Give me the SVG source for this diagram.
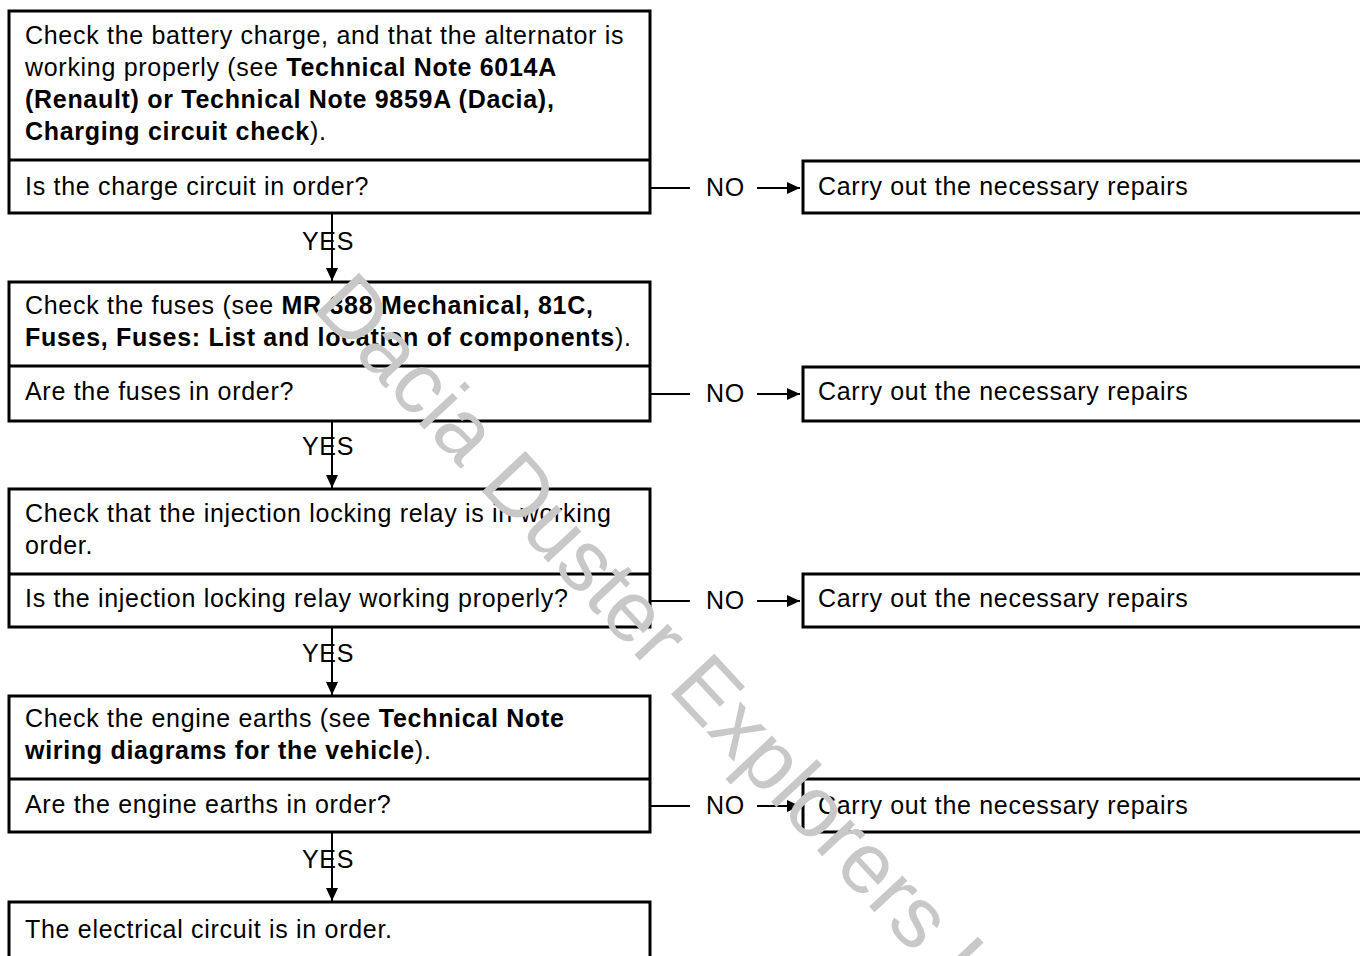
<svg xmlns="http://www.w3.org/2000/svg" width="1360" height="956" viewBox="0 0 1360 956">
<defs>
<style>
.box{fill:#fff;stroke:#000;stroke-width:3}
.div{stroke:#000;stroke-width:3}
.t{font-family:"Liberation Sans",Arial,sans-serif;font-size:25px;letter-spacing:0.7px;fill:#000}
.b{font-weight:bold}
.ln{stroke:#000;stroke-width:2;fill:none}
.wm{font-family:"Liberation Sans",Arial,sans-serif;font-size:86px;fill:#c8c8c8}
</style>
<marker id="ah" markerUnits="userSpaceOnUse" markerWidth="14" markerHeight="14" viewBox="0 0 14 14" refX="13" refY="7" orient="auto">
<path d="M0,1 L13,7 L0,13 Z" fill="#000"/>
</marker>
</defs>
<rect width="1360" height="956" fill="#fff"/>

<g id="connectors">
<line class="ln" x1="332" y1="213" x2="332" y2="281" marker-end="url(#ah)"/>
<line class="ln" x1="332" y1="421" x2="332" y2="488" marker-end="url(#ah)"/>
<line class="ln" x1="332" y1="627" x2="332" y2="695" marker-end="url(#ah)"/>
<line class="ln" x1="332" y1="832" x2="332" y2="901" marker-end="url(#ah)"/>
<text class="t" x="328" y="250" text-anchor="middle">YES</text>
<text class="t" x="328" y="455" text-anchor="middle">YES</text>
<text class="t" x="328" y="662" text-anchor="middle">YES</text>
<text class="t" x="328" y="868" text-anchor="middle">YES</text>
<line class="ln" x1="650" y1="188" x2="690" y2="188"/>
<line class="ln" x1="757" y1="188" x2="800" y2="188" marker-end="url(#ah)"/>
<text class="t" x="706" y="196">NO</text>
<line class="ln" x1="650" y1="394" x2="690" y2="394"/>
<line class="ln" x1="757" y1="394" x2="800" y2="394" marker-end="url(#ah)"/>
<text class="t" x="706" y="402">NO</text>
<line class="ln" x1="650" y1="601" x2="690" y2="601"/>
<line class="ln" x1="757" y1="601" x2="800" y2="601" marker-end="url(#ah)"/>
<text class="t" x="706" y="609">NO</text>
<line class="ln" x1="650" y1="806" x2="690" y2="806"/>
<line class="ln" x1="757" y1="806" x2="800" y2="806" marker-end="url(#ah)"/>
<text class="t" x="706" y="814">NO</text>
</g>

<g id="step1">
<rect class="box" x="9" y="11" width="641" height="202"/>
<line class="div" x1="9" y1="160" x2="650" y2="160"/>
<text class="t" x="25" y="44">Check the battery charge, and that the alternator is</text>
<text class="t" x="25" y="76">working properly (see <tspan class="b">Technical Note 6014A</tspan></text>
<text class="t b" x="25" y="108">(Renault) or Technical Note 9859A (Dacia),</text>
<text class="t" x="25" y="140"><tspan class="b">Charging circuit check</tspan>).</text>
<text class="t" x="25" y="195">Is the charge circuit in order?</text>
</g>
<g id="repair1">
<rect class="box" x="803" y="161" width="600" height="52"/>
<text class="t" x="818" y="195">Carry out the necessary repairs</text>
</g>

<g id="step2">
<rect class="box" x="9" y="282" width="641" height="139"/>
<line class="div" x1="9" y1="366" x2="650" y2="366"/>
<text class="t" x="25" y="314">Check the fuses (see <tspan class="b">MR 388 Mechanical, 81C,</tspan></text>
<text class="t" x="25" y="346"><tspan class="b">Fuses, Fuses: List and location of components</tspan>).</text>
<text class="t" x="25" y="400">Are the fuses in order?</text>
</g>
<g id="repair2">
<rect class="box" x="803" y="367" width="600" height="54"/>
<text class="t" x="818" y="400">Carry out the necessary repairs</text>
</g>

<g id="step3">
<rect class="box" x="9" y="489" width="641" height="138"/>
<line class="div" x1="9" y1="574" x2="650" y2="574"/>
<text class="t" x="25" y="522">Check that the injection locking relay is in working</text>
<text class="t" x="25" y="554">order.</text>
<text class="t" x="25" y="607">Is the injection locking relay working properly?</text>
</g>
<g id="repair3">
<rect class="box" x="803" y="574" width="600" height="53"/>
<text class="t" x="818" y="607">Carry out the necessary repairs</text>
</g>

<g id="step4">
<rect class="box" x="9" y="696" width="641" height="136"/>
<line class="div" x1="9" y1="779" x2="650" y2="779"/>
<text class="t" x="25" y="727">Check the engine earths (see <tspan class="b">Technical Note</tspan></text>
<text class="t" x="25" y="759"><tspan class="b">wiring diagrams for the vehicle</tspan>).</text>
<text class="t" x="25" y="813">Are the engine earths in order?</text>
</g>
<g id="repair4">
<rect class="box" x="803" y="779" width="600" height="53"/>
<text class="t" x="818" y="814">Carry out the necessary repairs</text>
</g>

<g id="step5">
<rect class="box" x="9" y="902" width="641" height="100"/>
<text class="t" x="25" y="938">The electrical circuit is in order.</text>
</g>

<text class="wm" transform="translate(311,308) rotate(47)">Dacia Duster Explorers U</text>
</svg>
